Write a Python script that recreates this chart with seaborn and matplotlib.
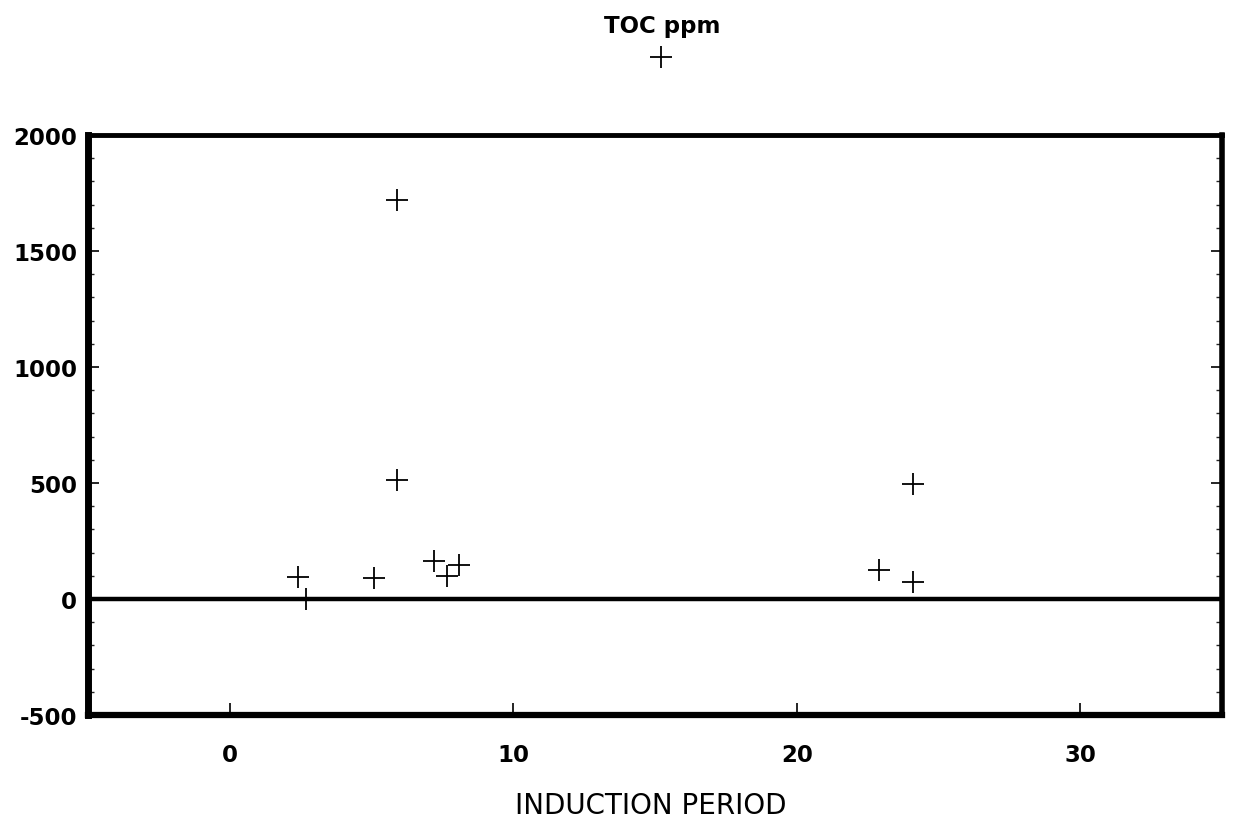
import matplotlib
matplotlib.use("Agg")
import matplotlib.pyplot as plt
from matplotlib.ticker import MultipleLocator
import pandas as pd
import seaborn as sns

# induction period vs TOC
induction = [2.4, 2.7, 5.1, 5.9, 5.9, 7.2, 7.65, 8.1, 15.2, 22.9, 24.1, 24.1]
toc_ppm = [95, 0, 90, 1720, 515, 165, 100, 145, 2335, 125, 495, 75]

x_ticks = [0, 10, 20, 30]
y_ticks = [-500, 0, 500, 1000, 1500, 2000]

sns.set_theme(style="white")
plt.rcParams["font.family"] = ["DejaVu Sans"]
plt.rcParams["axes.unicode_minus"] = False
plt.rcParams["text.color"] = "black"

df = pd.DataFrame({"induction": induction, "toc": toc_ppm})

fig = plt.figure(figsize=(12.33, 8.29), dpi=100)
ax = fig.add_axes([88 / 1233, 1 - 716 / 829, (1222 - 88) / 1233, (716 - 136) / 829])

sns.scatterplot(data=df, x="induction", y="toc", marker="+", s=260,
                color="black", linewidth=1.3, clip_on=False, ax=ax, zorder=5)

ax.axhline(0, color="black", lw=3.2, zorder=3)

ax.set_xlim(-5, 35)
ax.set_ylim(-500, 2000)
ax.set_xticks(x_ticks)
ax.set_yticks(y_ticks)
ax.yaxis.set_minor_locator(MultipleLocator(100))

ax.tick_params(axis="y", which="major", direction="in", length=8, width=1.2,
               left=True, right=True, labelsize=16.5, pad=8, colors="black")
ax.tick_params(axis="y", which="minor", direction="in", length=4, width=1,
               left=True, right=True)
ax.tick_params(axis="x", which="major", direction="in", length=9, width=1.2,
               bottom=True, labelsize=16.5, pad=20, colors="black")
for lab in ax.get_xticklabels() + ax.get_yticklabels():
    lab.set_fontweight("bold")

for side, w in [("left", 5), ("right", 4), ("top", 3.5), ("bottom", 4.5)]:
    ax.spines[side].set_visible(True)
    ax.spines[side].set_color("black")
    ax.spines[side].set_linewidth(w)

ax.set_xlabel("")
ax.set_ylabel("")
fig.text(662 / 1233, 1 - 26 / 829, "TOC ppm", ha="center", va="center",
         fontsize=16.5, fontweight="bold", color="black")
fig.text(651 / 1233, 1 - 806 / 829, "INDUCTION PERIOD", ha="center", va="center",
         fontsize=20, color="black")

fig.savefig("out.png", dpi=100, facecolor="white")
